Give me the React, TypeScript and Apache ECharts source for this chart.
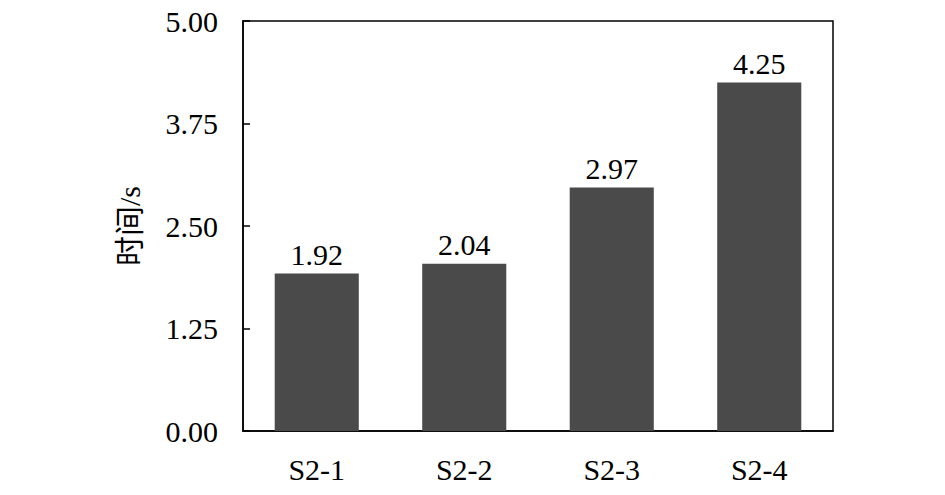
import React, { useEffect, useRef } from "react";
import * as echarts from "echarts";

const categories = ["S2-1", "S2-2", "S2-3", "S2-4"];
const values = [1.92, 2.04, 2.97, 4.25];
const yTicks = [0, 1.25, 2.5, 3.75, 5];
const yTitle = "时间/s";

export default function App() {
  const ref = useRef<HTMLDivElement>(null);
  useEffect(() => {
    if (!ref.current) return;
    const chart = echarts.init(ref.current, null, { renderer: "svg" });
    const serif = "Liberation Serif";
    chart.setOption({
      animation: false,
      backgroundColor: "#ffffff",
      grid: {
        left: 243,
        right: 112,
        top: 21,
        bottom: 64,
        show: true,
        borderColor: "#000",
        borderWidth: 1.5,
        backgroundColor: "transparent",
      },
      xAxis: {
        type: "category",
        data: categories,
        axisLine: { show: true, lineStyle: { color: "#000", width: 1.5 } },
        axisTick: { show: false },
        axisLabel: {
          color: "#000",
          fontFamily: serif,
          fontSize: 30,
          margin: 23,
        },
      },
      yAxis: {
        type: "value",
        min: yTicks[0],
        max: yTicks[yTicks.length - 1],
        interval: 1.25,
        name: yTitle,
        nameLocation: "middle",
        nameRotate: 90,
        nameGap: 99,
        nameTextStyle: {
          color: "#000",
          fontFamily: "Liberation Serif, Noto Sans CJK SC",
          fontSize: 30,
        },
        axisLine: { show: true, lineStyle: { color: "#000", width: 1.5 } },
        axisTick: {
          show: true,
          inside: true,
          length: 7,
          lineStyle: { color: "#000", width: 1.5 },
        },
        splitLine: { show: false },
        axisLabel: {
          color: "#000",
          fontFamily: serif,
          fontSize: 30,
          margin: 25,
          formatter: (v: number) => v.toFixed(2),
        },
      },
      series: [
        {
          type: "bar",
          data: values,
          barWidth: "57%",
          itemStyle: { color: "#4a4a4a" },
          label: {
            show: true,
            position: "top",
            distance: 4,
            color: "#000",
            fontFamily: serif,
            fontSize: 30,
            formatter: (p: any) => Number(p.value).toFixed(2),
          },
        },
      ],
    });
    return () => chart.dispose();
  }, []);
  return (
    <div
      ref={ref}
      style={{ position: "fixed", left: 0, top: 0, width: 945, height: 495 }}
    />
  );
}
